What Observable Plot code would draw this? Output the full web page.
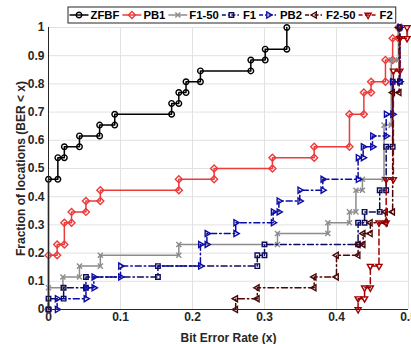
<!DOCTYPE html>
<html>
<head>
<meta charset="utf-8">
<script src="https://cdn.jsdelivr.net/npm/d3@7"></script>
<script src="https://cdn.jsdelivr.net/npm/@observablehq/plot@0.6"></script>
<style>
  body { margin: 0; background: #fff; }
</style>
</head>
<body>
<div id="chart"></div>
<script>
// ---- Data: BER value of each of the 26 locations, per scheme ----
const N = 26;
const seriesNames = ["ZFBF", "PB1", "F1-50", "F1", "PB2", "F2-50", "F2"];
const zfbf = [0,0,0,0,0,0,0,0,0,0,0,0, 0.013,0.013,0.022,0.043,0.071,0.092,0.171,0.181,0.191,0.211,0.281,0.301,0.331,0.331];
const pb1  = [0,0,0,0,0, 0.012,0.022,0.022,0.032,0.052,0.072,0.181,0.23,0.311,0.369,0.418,0.418,0.418,0.438,0.438,0.448,0.468,0.468,0.478,0.478,0.486];
const f1_50 = [0,0, 0.02,0.043,0.072,0.181,0.318,0.388,0.418,0.427,0.427,0.436,0.466,0.466,0.466,0.466,0.466,0.476,0.476,0.476,0.476,0.476,0.476,0.486,0.486,0.486];
const f1   = [0, 0.021,0.052,0.152,0.29,0.30,0.43,0.43,0.439,0.46,0.46,0.469,0.469,0.469,0.469,0.478,0.478,0.478,0.478,0.478,0.478,0.488,0.488,0.488,0.488,0.488];
const pb2  = [0.012,0.052,0.063,0.10,0.211,0.211,0.22,0.26,0.312,0.32,0.349,0.381,0.43,0.43,0.437,0.45,0.469,0.469,0.478,0.478,0.478,0.488,0.488,0.488,0.488,0.488];
const f2_50 = [0.26,0.29,0.369,0.40,0.40,0.43,0.437,0.447,0.468,0.478,0.478,0.478,0.478,0.478,0.478,0.478,0.478,0.478,0.478,0.478,0.487,0.487,0.487,0.487,0.487,0.487];
const f2   = [0.43,0.439,0.447,0.447,0.459,0.459,0.459,0.459,0.469,0.469,0.469,0.469,0.479,0.479,0.479,0.479,0.479,0.479,0.479,0.479,0.479,0.479,0.488,0.488,0.488,0.498];
const xTicks = [0, 0.1, 0.2, 0.3, 0.4, 0.5];
const yTicks = [0, 0.1, 0.2, 0.3, 0.4, 0.5, 0.6, 0.7, 0.8, 0.9, 1];

// ---- Marker symbols (MATLAB style) ----
const rad = (size) => Math.sqrt(size / Math.PI);
const symCircle = { draw(c, s) { const r = rad(s); c.moveTo(r, 0); c.arc(0, 0, r, 0, 2 * Math.PI); } };
const symDiamond = { draw(c, s) { const r = rad(s) * 1.25; c.moveTo(0, -r); c.lineTo(r, 0); c.lineTo(0, r); c.lineTo(-r, 0); c.closePath(); } };
const symTimes = { draw(c, s) { const r = rad(s) * 0.9; c.moveTo(-r, -r); c.lineTo(r, r); c.moveTo(-r, r); c.lineTo(r, -r); } };
const symSquare = { draw(c, s) { const r = rad(s) * 0.8; c.moveTo(-r, -r); c.lineTo(r, -r); c.lineTo(r, r); c.lineTo(-r, r); c.closePath(); } };
function triangle(angle) {
  return { draw(c, s) {
    const r = rad(s) * 1.25;
    for (let i = 0; i < 3; i++) {
      const a = angle + i * 2 * Math.PI / 3;
      const x = r * Math.cos(a), y = r * Math.sin(a);
      if (i === 0) c.moveTo(x, y); else c.lineTo(x, y);
    }
    c.closePath();
  } };
}
const symTriRight = triangle(0);
const symTriLeft = triangle(Math.PI);
const symTriDown = triangle(Math.PI / 2);

const DASHDOT = "6,3,1.5,3", DASHED = "6,3.5";
const styles = [
  { name: seriesNames[0], values: zfbf,  color: "#000000", dash: null,    symbol: symCircle },
  { name: seriesNames[1], values: pb1,   color: "#ec3b3b", dash: null,    symbol: symDiamond },
  { name: seriesNames[2], values: f1_50, color: "#8c8c8c", dash: null,    symbol: symTimes },
  { name: seriesNames[3], values: f1,    color: "#0c0c5c", dash: DASHDOT, symbol: symSquare },
  { name: seriesNames[4], values: pb2,   color: "#0b0ba6", dash: DASHDOT, symbol: symTriRight },
  { name: seriesNames[5], values: f2_50, color: "#4a0606", dash: DASHDOT, symbol: symTriLeft },
  { name: seriesNames[6], values: f2,    color: "#a00000", dash: DASHED,  symbol: symTriDown }
];

// Step-CDF vertices: at each distinct BER, a point before and after the jump
function ecdfVertices(vals) {
  const groups = d3.rollups(vals, v => v.length, d => d).sort((a, b) => a[0] - b[0]);
  const pts = [];
  let count = 0;
  for (const [x, n] of groups) {
    pts.push({ x, y: count / N });
    count += n;
    pts.push({ x, y: count / N });
  }
  return pts;
}

const fmt = d => String(d);
const marks = [
  Plot.gridX(xTicks, { stroke: "#e2e2e2", strokeOpacity: 1 }),
  Plot.gridY(yTicks, { stroke: "#e2e2e2", strokeOpacity: 1 }),
  Plot.axisX({ ticks: xTicks, tickFormat: fmt, tickSize: 0, tickPadding: 3, label: "Bit Error Rate (x)", labelAnchor: "center", labelArrow: "none", labelOffset: 32 }),
  Plot.axisY({ ticks: yTicks, tickFormat: fmt, tickSize: 0, tickPadding: 4, label: "Fraction of locations (BER < x)", labelAnchor: "center", labelArrow: "none", labelOffset: 32 })
];
for (const s of styles) {
  const pts = ecdfVertices(s.values);
  marks.push(Plot.line(pts, { x: "x", y: "y", stroke: s.color, strokeWidth: 1.5, strokeDasharray: s.dash }));
  marks.push(Plot.dot(pts, { x: "x", y: "y", stroke: s.color, symbol: s.symbol, r: 2.8, strokeWidth: 1.4, fill: "none" }));
}
marks.push(Plot.ruleX([0], { stroke: "#262626", strokeWidth: 1 }));
marks.push(Plot.ruleY([0], { stroke: "#262626", strokeWidth: 1 }));

const svg = Plot.plot({
  width: 411,
  height: 344,
  marginLeft: 48,
  marginRight: 3,
  marginTop: 27,
  marginBottom: 35,
  x: { domain: [0, 0.5] },
  y: { domain: [0, 1] },
  style: { fontFamily: "'Liberation Sans', Arial, sans-serif", fontSize: "12px", fontWeight: "bold", color: "#262626", background: "#fff" },
  marks
});
document.getElementById("chart").appendChild(svg);

// ---- Legend (inside the figure, above the axes) ----
const sel = d3.select(svg);
const lg = sel.append("g")
  .attr("font-size", "11.3px").attr("font-weight", "bold")
  .attr("font-family", "'Liberation Sans', Arial, sans-serif")
  .attr("text-anchor", "start");
const box = lg.append("rect").attr("x", 68).attr("y", 7).attr("height", 16)
  .attr("fill", "#fff").attr("stroke", "#262626").attr("stroke-width", 1);
let cur = 69.5;
const cy = 15;
for (const s of styles) {
  const legendDash = s.dash === DASHDOT ? "4,2,1.5,2" : s.dash === DASHED ? "4,2.5" : null;
  lg.append("line").attr("x1", cur).attr("x2", cur + 19).attr("y1", cy).attr("y2", cy)
    .attr("stroke", s.color).attr("stroke-width", 1.5).attr("stroke-dasharray", legendDash);
  lg.append("path").attr("transform", `translate(${cur + 9.5},${cy})`)
    .attr("d", d3.symbol(s.symbol, Math.PI * 2.8 * 2.8)())
    .attr("fill", "none").attr("stroke", s.color).attr("stroke-width", 1.4);
  const t = lg.append("text").attr("x", cur + 21).attr("y", cy).attr("dy", "0.36em")
    .attr("fill", "#000").attr("text-anchor", "start").text(s.name);
  const w = t.node().getComputedTextLength();
  cur = cur + 21 + w + 3;
}
box.attr("width", cur - 68);
</script>
</body>
</html>
